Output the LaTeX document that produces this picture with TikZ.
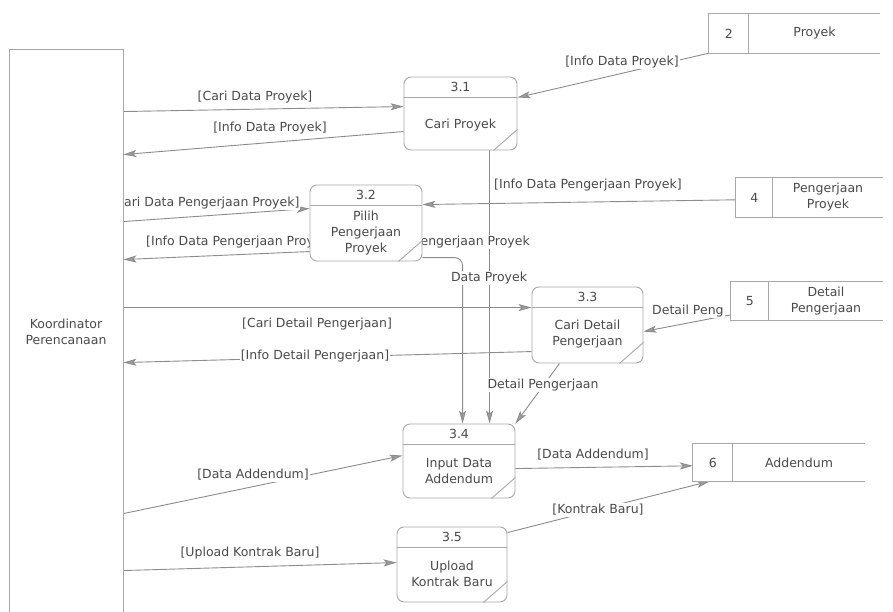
\documentclass[tikz,border=0pt]{standalone}
\usepackage{fontspec}
\setmainfont{DejaVu Sans}
\usetikzlibrary{calc,arrows.meta}
\pgfdeclarelayer{bg}
\pgfsetlayers{bg,main}

\definecolor{edge}{HTML}{8C8C8C}
\definecolor{frame}{HTML}{A8A8A8}
\definecolor{ink}{HTML}{4A4A4A}

\tikzset{
  flow/.style={draw=edge, line width=0.9pt,
    -{Stealth[length=13pt,width=7pt,inset=3pt,fill=edge!85]}},
  proc/.style={draw=frame, line width=0.9pt, rounded corners=7pt, fill=white, inner sep=0pt},
  sep/.style={draw=frame, line width=0.9pt},
  storebox/.style={fill=white, draw=none, inner sep=0pt},
  entbox/.style={draw=frame, line width=0.9pt, fill=white, inner sep=0pt},
  txt/.style={text=ink, font=\fontsize{12.5}{16}\selectfont, align=center, inner sep=0pt},
  lbl/.style={txt, fill=white, inner sep=1pt},
}

% process: name, centre x, centre y, width, height, number, title, title offset
\newcommand{\dfdproc}[8]{%
  \node[proc, minimum width=#4pt, minimum height=#5pt] (#1) at (#2,#3) {};
  \draw[sep] ($(#1.north west)+(0,20.5)$) -- ($(#1.north east)+(0,20.5)$);
  \draw[sep] ($(#1.south east)+(-24,0)$) -- ($(#1.south east)+(0,-21)$);
  \node[txt] (#1num) at ($(#1.north)+(0,10.5)$) {#6};
  \node[txt] (#1txt) at ($(#1.center)+(0,#8)$) {#7};
}

% data store: name, centre x, centre y, width, height, number, title, number cell width
\newcommand{\dfdstore}[8]{%
  \node[storebox, minimum width=#4pt, minimum height=#5pt] (#1) at (#2,#3) {};
  \draw[sep] (#1.north east) -- (#1.north west) -- (#1.south west) -- (#1.south east);
  \draw[sep] ($(#1.north west)+(#8,0)$) -- ($(#1.south west)+(#8,0)$);
  \node[txt] (#1num) at ($(#1.west)+(#8/2,0)$) {#6};
  \node[txt] (#1txt) at ($(#1.center)+(#8/2,0)$) {#7};
}

\begin{document}
\begin{tikzpicture}[x=1pt, y=-1pt]
\useasboundingbox (0,0) rectangle (893,612);

% external entity
\node[entbox, minimum width=114pt, minimum height=600pt] (ent) at (66,349) {};
\node[txt] (entname) at (66,332) {Koordinator\\Perencanaan};

% processes
\dfdproc{p31}{460.5}{113.5}{113}{73}{3.1}{Cari Proyek}{11.5}
\dfdproc{p32}{366}{223}{112}{76}{3.2}{Pilih\\Pengerjaan\\Proyek}{10.5}
\dfdproc{p33}{587.5}{325}{111}{76}{3.3}{Cari Detail\\Pengerjaan}{9.5}
\dfdproc{p34}{459}{461}{112}{74}{3.4}{Input Data\\Addendum}{10}
\dfdproc{p35}{452}{564.5}{110}{75}{3.5}{Upload\\Kontrak Baru}{9.5}

% data stores
\dfdstore{s2}{794.5}{33.5}{171}{39}{2}{Proyek}{40}
\dfdstore{s4}{809.5}{197.5}{147}{39}{4}{Pengerjaan\\Proyek}{37}
\dfdstore{s5}{807}{301}{152}{38}{5}{Detail\\Pengerjaan}{38}
\dfdstore{s6}{779}{462.5}{172}{37}{6}{Addendum}{40}

\begin{pgfonlayer}{bg}
  \fill[white] (0,0) rectangle (893,612);

  % flows between entity and processes
  \draw[flow] ($(ent.north east)+(0,63)$) -- ($(p31.north west)+(0,30)$);
  \draw[flow] ($(p31.north west)+(0,55)$) -- ($(ent.north east)+(0,106)$);
  \draw[flow] ($(ent.north east)+(0,173)$) -- ($(p32.north west)+(0,24)$);
  \draw[flow] ($(p32.north west)+(0,67)$) -- ($(ent.north east)+(0,211)$);
  \draw[flow] ($(ent.north east)+(0,259)$) -- ($(p33.north west)+(0,21)$);
  \draw[flow] ($(p33.north west)+(0,65)$) -- ($(ent.north east)+(0,314)$);
  \draw[flow] ($(ent.north east)+(0,465)$) -- ($(p34.north west)+(0,32)$);
  \draw[flow] ($(ent.north east)+(0,522)$) -- ($(p35.north west)+(0,36)$);

  % flows from stores
  \draw[flow] (s2.south west) -- ($(p31.north east)+(0,21)$);
  \draw[flow] ($(s4.north west)+(0,22)$) -- ($(p32.north east)+(0,20)$);
  \draw[flow] ($(s5.north west)+(0,33)$) -- ($(p33.north east)+(0,45)$);

  % flows into 3.4
  \draw[flow, rounded corners=8pt] ($(p32.north east)+(0,73)$) -| ($(p34.north west)+(60,0)$);
  \coordinate (d8) at ($(p34.north west)+(87,0)$);
  \draw[flow] (d8 |- p31.south) -- (d8);
  \draw[flow] ($(p33.south west)+(28,0)$) -- (p34.north east);

  % flows to the addendum store
  \draw[flow] ($(p34.north east)+(0,45)$) -- ($(s6.north west)+(0,22)$);
  \draw[flow] ($(p35.north east)+(0,6)$) -- ($(s6.south west)+(17,0)$);

  % flow labels
  \node[lbl] (l1) at (255,97) {[Cari Data Proyek]};
  \node[lbl] (l2) at (270,128) {[Info Data Proyek]};
  \node[lbl] (l3) at (622,62) {[Info Data Proyek]};
  \node[lbl] (l4) at (205,203) {[Cari Data Pengerjaan Proyek]};
  \node[lbl] (l5) at (240,242) {[Info Data Pengerjaan Proyek]};
  \node[lbl] (l6) at (588,185) {[Info Data Pengerjaan Proyek]};
  \node[lbl, anchor=east] (l7) at (531,242) {Data Pengerjaan Proyek};
  \node[lbl] (l8) at (489,278) {Data Proyek};
  \node[lbl] (l9) at (543,385) {Detail Pengerjaan};
  \node[lbl] (l10) at (317,324) {[Cari Detail Pengerjaan]};
  \node[lbl] (l11) at (315,356) {[Info Detail Pengerjaan]};
  \node[lbl, anchor=west] (l12) at (651,311) {Detail Peng};
  \node[lbl] (l13) at (253,475) {[Data Addendum]};
  \node[lbl] (l14) at (593,455) {[Data Addendum]};
  \node[lbl] (l15) at (250,553) {[Upload Kontrak Baru]};
  \node[lbl] (l16) at (598,510) {[Kontrak Baru]};
\end{pgfonlayer}
\end{tikzpicture}
\end{document}
